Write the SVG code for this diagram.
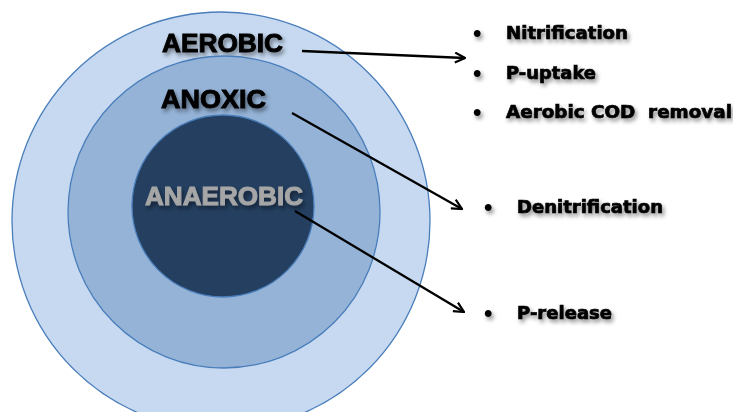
<svg xmlns="http://www.w3.org/2000/svg" width="733" height="412" viewBox="0 0 733 412">
<style>
.ring{stroke:#4A7EBB;stroke-width:1.3}
.zone{font-family:"Liberation Sans",Arial,sans-serif;font-weight:bold;font-size:25px;stroke-width:0.9}
.item{font-family:"DejaVu Sans","Liberation Sans",sans-serif;font-weight:bold;font-size:17.5px;fill:#000;stroke:#000;stroke-width:0.7}
.bul{font-family:"Liberation Sans",Arial,sans-serif;font-weight:bold;font-size:24px;fill:#000}
.conn{stroke:#000;stroke-width:2.3;fill:none}
</style>
<defs>
<filter id="sh" x="-20%" y="-40%" width="140%" height="180%">
<feDropShadow dx="2" dy="3" stdDeviation="2" flood-color="#000" flood-opacity="0.45"/>
</filter>
<marker id="ah" viewBox="0 0 12 12" refX="11" refY="6" markerWidth="12" markerHeight="12" markerUnits="userSpaceOnUse" orient="auto">
<path d="M1,1 L11,6 L1,11" fill="none" stroke="#000" stroke-width="2.2"/>
</marker>
</defs>
<rect width="733" height="412" fill="#fff"/>
<g id="aerobic">
<circle class="ring" cx="221" cy="221" r="209" fill="#C6D9F0"/>
<text class="zone" x="162" y="52" fill="#000" stroke="#000" filter="url(#sh)" textLength="121" lengthAdjust="spacingAndGlyphs">AEROBIC</text>
</g>
<g id="anoxic">
<circle class="ring" cx="224" cy="212" r="156" fill="#95B3D7"/>
<text class="zone" x="161" y="108" fill="#000" stroke="#000" filter="url(#sh)" textLength="105" lengthAdjust="spacingAndGlyphs">ANOXIC</text>
</g>
<g id="anaerobic">
<circle class="ring" cx="223" cy="206" r="91" fill="#243F60"/>
<text class="zone" x="145" y="205" fill="#A6A6A6" stroke="#A6A6A6" filter="url(#sh)" textLength="158" lengthAdjust="spacingAndGlyphs">ANAEROBIC</text>
</g>
<g id="aerobic-list" filter="url(#sh)">
<text class="bul" x="473" y="41">•</text>
<text class="item" x="506" y="39" textLength="122" lengthAdjust="spacingAndGlyphs">Nitrification</text>
<text class="bul" x="473" y="81">•</text>
<text class="item" x="506" y="79" textLength="90" lengthAdjust="spacingAndGlyphs">P-uptake</text>
<text class="bul" x="473" y="120">•</text>
<text class="item" x="506" y="118" textLength="226" lengthAdjust="spacingAndGlyphs" xml:space="preserve">Aerobic COD  removal</text>
</g>
<g id="anoxic-list" filter="url(#sh)">
<text class="bul" x="484" y="215">•</text>
<text class="item" x="517" y="213" textLength="146" lengthAdjust="spacingAndGlyphs">Denitrification</text>
</g>
<g id="anaerobic-list" filter="url(#sh)">
<text class="bul" x="484" y="321">•</text>
<text class="item" x="517" y="319" textLength="95" lengthAdjust="spacingAndGlyphs">P-release</text>
</g>
<g id="connectors">
<path class="conn" d="M302,51 L465,58" marker-end="url(#ah)"/>
<path class="conn" d="M292,113 L462,209" marker-end="url(#ah)"/>
<path class="conn" d="M295,211 L464,312" marker-end="url(#ah)"/>
</g>
</svg>
